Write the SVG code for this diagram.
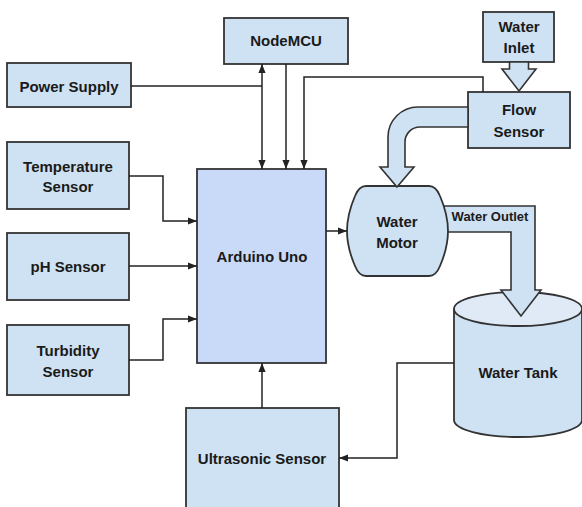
<svg xmlns="http://www.w3.org/2000/svg" width="582" height="507" viewBox="0 0 582 507">
<defs>
<style>
.box{fill:#cfe2f3;stroke:#333;stroke-width:1.8}
.ard{fill:#c9daf8;stroke:#333;stroke-width:1.8}
.blk{fill:#cfe2f3;stroke:#333;stroke-width:1.6;stroke-linejoin:miter}
.t{font-family:"Liberation Sans",Arial,sans-serif;font-weight:bold;font-size:15px;fill:#1a1a1a;text-anchor:middle}
.ts{font-size:13px}
.c{fill:none;stroke:#222;stroke-width:1.5}
.a{marker-end:url(#ah)}
</style>
<marker id="ah" viewBox="0 0 10 8" refX="10" refY="4" markerWidth="9" markerHeight="7.5" markerUnits="userSpaceOnUse" orient="auto-start-reverse">
<path d="M0,0 L10,4 L0,8 z" fill="#222"/>
</marker>
</defs>
<rect width="582" height="507" fill="#fff"/>

<g id="power-supply"><rect class="box" x="7" y="63" width="124" height="44"/><text class="t" x="69" y="92">Power Supply</text></g>
<g id="nodemcu"><rect class="box" x="224" y="18" width="124" height="46"/><text class="t" x="286" y="46">NodeMCU</text></g>
<g id="temperature-sensor"><rect class="box" x="7" y="142" width="122" height="67"/><text class="t" x="68" y="172">Temperature</text><text class="t" x="68" y="192">Sensor</text></g>
<g id="ph-sensor"><rect class="box" x="7" y="233" width="122" height="67"/><text class="t" x="68" y="272">pH Sensor</text></g>
<g id="turbidity-sensor"><rect class="box" x="7" y="325" width="122" height="70"/><text class="t" x="68" y="356">Turbidity</text><text class="t" x="68" y="377">Sensor</text></g>
<g id="arduino-uno"><rect class="ard" x="197" y="169" width="129" height="194"/><text class="t" x="262" y="262">Arduino Uno</text></g>
<g id="ultrasonic-sensor"><rect class="box" x="186" y="408" width="153" height="112"/><text class="t" x="262" y="464">Ultrasonic Sensor</text></g>

<g id="water-tank">
<path class="box" d="M454,309 V420 A64,17 0 0 0 582,420 V309"/>
<ellipse cx="518" cy="309" rx="64" ry="17" fill="#dfeaf6" stroke="#333" stroke-width="1.8"/>
<text class="t" x="518" y="378">Water Tank</text>
</g>

<g id="water-outlet">
<path class="blk" d="M440,206 H535 V290 H541 L521,316 L501,290 H511 V232 H440 Z"/>
<text class="t ts" x="490" y="221">Water Outlet</text>
</g>

<g id="water-motor">
<path class="box" d="M366,186 H429 Q436,186 440,196 C446,210 448,220 448,231 C448,242 446,252 440,266 Q436,276 429,276 H366 Q359,276 355,266 C349,252 347,242 347,231 C347,220 349,210 355,196 Q359,186 366,186 Z"/>
<text class="t" x="397" y="227">Water</text><text class="t" x="397" y="248">Motor</text>
</g>

<g id="water-inlet"><rect class="box" x="483" y="12" width="71" height="50"/><text class="t" x="519" y="32">Water</text><text class="t" x="519" y="53">Inlet</text></g>
<g id="inlet-arrow"><path class="blk" d="M509.5,62 H528.5 V69 H536 L519,91 L502,69 H509.5 Z"/></g>
<g id="flow-sensor"><rect class="box" x="468" y="92" width="102" height="56"/><text class="t" x="519" y="115">Flow</text><text class="t" x="519" y="137">Sensor</text></g>
<g id="flow-arrow"><path class="blk" d="M468,107 H418 A30,30 0 0 0 388,137 V167 H380 L397,187 L414,167 H405 V142 A15,15 0 0 1 420,127 H468 Z"/></g>

<g id="connectors">
<path class="c" d="M131,86 H262"/>
<path class="c a" d="M262,64 V169" style="marker-start:url(#ah)"/>
<path class="c a" d="M286,64 V169"/>
<path class="c a" d="M483,92 V77 H304 V169"/>
<path class="c a" d="M129,176 H163 V221 H197"/>
<path class="c a" d="M129,266 H197"/>
<path class="c a" d="M129,360 H163 V319 H197"/>
<path class="c a" d="M326,231 H347"/>
<path class="c a" d="M262,408 V363"/>
<path class="c a" d="M454,363 H397 V458 H339"/>
</g>
</svg>
